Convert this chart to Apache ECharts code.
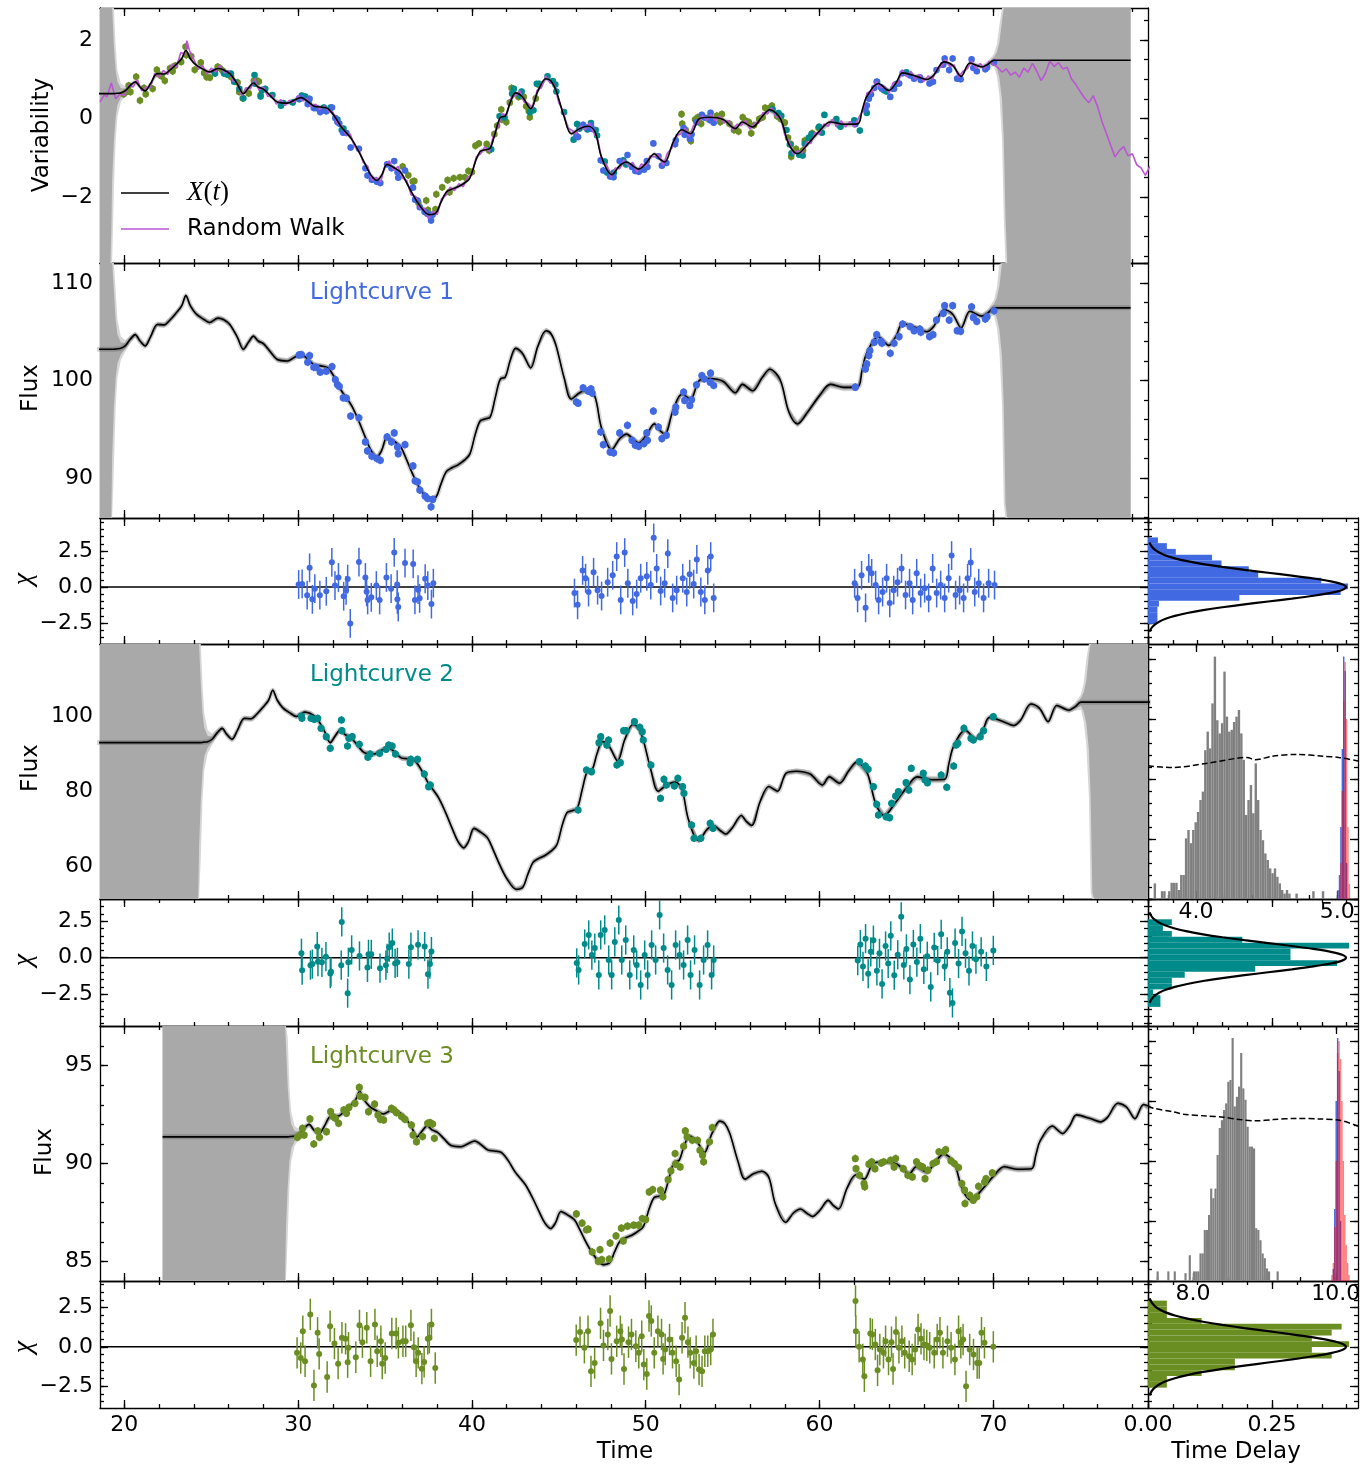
<!DOCTYPE html>
<html>
<head>
<meta charset="utf-8">
<title>Lightcurves and time delays</title>
<script src="https://cdn.jsdelivr.net/npm/echarts@6.0.0/dist/echarts.min.js"></script>
<style>
html, body { margin: 0; padding: 0; background: #fff; }
#chart { width: 1371px; height: 1466px; }
</style>
</head>
<body>
<div id="chart"></div>
<script>
const FONT = '"DejaVu Sans", "Noto Sans", sans-serif';
const SERIF = '"Liberation Serif", "DejaVu Serif", serif';
const BLUE = '#4169e1', TEAL = '#008b8b', GREEN = '#6b8e23', ORCHID = '#ba55d3';

// ---------------- data ----------------
const timeRange = [18.6, 78.9];
const timeTicks = [20, 30, 40, 50, 60, 70];

// driving signal X(t): [time, mean, sigma]
const driver = [
  [12.2,0.63,99],[19.15,0.63,99],[19.2,0.63,6],[19.25,0.63,3.5],[19.3,0.63,2.2],[19.4,0.63,1.2],
  [19.5,0.635,0.6],[19.6,0.64,0.3],[19.8,0.65,0.12],[20.05,0.70,0.06],[20.35,0.84,0.04],[20.63,0.93,0.03],
  [20.9,0.80,0.03],[21.2,0.70,0.03],[21.5,0.88,0.03],[21.9,1.14,0.03],[22.3,1.13,0.03],[22.6,1.22,0.03],
  [22.95,1.36,0.03],[23.3,1.52,0.03],[23.54,1.73,0.03],[23.8,1.52,0.03],[24.12,1.36,0.03],[24.5,1.26,0.03],
  [24.9,1.18,0.03],[25.39,1.27,0.03],[25.7,1.24,0.03],[26.07,1.14,0.03],[26.5,0.88,0.03],[26.85,0.63,0.03],
  [27.15,0.78,0.03],[27.43,0.90,0.03],[27.7,0.80,0.03],[28.02,0.74,0.03],[28.4,0.58,0.03],[28.8,0.42,0.03],
  [29.38,0.39,0.03],[29.8,0.47,0.03],[30.16,0.53,0.03],[30.5,0.45,0.03],[30.93,0.31,0.03],[31.3,0.29,0.03],
  [31.71,0.25,0.03],[32.1,0.05,0.03],[32.49,-0.22,0.03],[33.07,-0.52,0.03],[33.5,-0.85,0.03],[33.85,-1.16,0.03],
  [34.2,-1.45,0.03],[34.53,-1.58,0.03],[34.8,-1.45,0.03],[35.12,-1.17,0.03],[35.5,-1.25,0.03],[35.9,-1.37,0.03],
  [36.2,-1.60,0.03],[36.58,-1.92,0.03],[37.0,-2.22,0.03],[37.55,-2.45,0.03],[37.94,-2.40,0.03],[38.2,-2.15,0.03],
  [38.52,-1.88,0.03],[38.85,-1.80,0.03],[39.2,-1.74,0.03],[39.55,-1.65,0.03],[39.88,-1.52,0.03],[40.2,-1.10,0.03],
  [40.47,-0.84,0.03],[40.75,-0.80,0.03],[41.05,-0.76,0.03],[41.35,-0.35,0.03],[41.63,0.02,0.03],[41.92,0.06,0.03],
  [42.2,0.40,0.03],[42.51,0.65,0.03],[42.9,0.55,0.03],[43.38,0.25,0.03],[43.8,0.70,0.03],[44.26,1.01,0.03],
  [44.55,0.95,0.03],[44.84,0.71,0.03],[45.3,0.05,0.03],[45.72,-0.39,0.03],[46.2,-0.26,0.03],[46.69,-0.20,0.03],
  [47.08,-0.34,0.03],[47.46,-0.99,0.03],[48.05,-1.43,0.03],[48.51,-1.20,0.03],[48.9,-1.11,0.03],[49.3,-1.22,0.03],
  [49.6,-1.29,0.03],[50.0,-1.15,0.03],[50.5,-0.90,0.03],[50.8,-1.03,0.03],[51.09,-1.11,0.03],[51.59,-0.60,0.03],
  [52.08,-0.29,0.03],[52.58,-0.39,0.03],[53.08,-0.01,0.03],[53.67,0.03,0.03],[54.46,-0.03,0.04],[55.16,-0.26,0.04],
  [55.56,-0.09,0.04],[56.15,-0.22,0.04],[56.7,0.05,0.04],[57.14,0.22,0.04],[57.74,0.00,0.04],[58.23,-0.65,0.04],
  [58.73,-0.90,0.04],[59.33,-0.65,0.04],[60.02,-0.31,0.04],[60.62,-0.09,0.04],[61.41,-0.15,0.04],[62.2,-0.14,0.04],
  [62.45,0.20,0.03],[62.7,0.54,0.03],[63.39,0.89,0.03],[63.99,0.71,0.03],[64.4,0.90,0.03],[64.78,1.16,0.03],
  [65.58,1.07,0.03],[66.17,0.99,0.03],[66.57,1.10,0.03],[67.16,1.44,0.03],[67.66,1.35,0.03],[68.15,1.07,0.03],
  [68.65,1.41,0.03],[69.35,1.31,0.03],[69.7,1.38,0.04],[70.04,1.48,0.08],[70.2,1.48,0.2],[70.35,1.48,0.45],
  [70.5,1.48,1.0],[70.6,1.48,2.0],[70.7,1.48,4.0],[70.8,1.48,99],[77.9,1.48,99]
];

const randomWalk = [
  [18.6,0.42],[18.85,0.60],[19.0,0.55],[19.25,0.90],[19.5,0.50],[19.75,0.62],[20.0,0.58],[20.25,0.85],[20.5,0.80],
  [20.75,0.98],[21.0,0.70],[21.25,0.80],[21.5,0.78],[21.75,1.15],[22.0,1.05],[22.25,1.22],[22.5,1.12],[22.75,1.38],
  [23.0,1.30],[23.25,1.68],[23.5,1.62],[23.6,1.98],[23.75,1.72],[24.0,1.50],[24.25,1.25],[24.5,1.35],[24.75,1.12],
  [25.0,1.28],[25.25,1.18],[25.5,1.35],[25.75,1.15],[26.0,1.22],[26.25,0.95],[26.5,0.92],[26.75,0.58],[27.0,0.78],
  [27.25,0.75],[27.5,1.02],[27.75,0.72],[28.0,0.80],[28.25,0.56],[28.5,0.60],[28.75,0.36],[29.0,0.48],[29.25,0.33],
  [29.5,0.46],[29.75,0.40],[30.0,0.58],[30.25,0.44],[30.5,0.50],[30.75,0.30],[31.0,0.36],[31.25,0.22],[31.5,0.32],
  [31.75,0.18],[32.0,0.16],[32.25,-0.12],[32.5,-0.18],[32.75,-0.42],[33.0,-0.40],[33.25,-0.72],[33.5,-0.80],
  [33.75,-1.12],[34.0,-1.22],[34.25,-1.58],[34.5,-1.50],[34.75,-1.62],[35.0,-1.20],[35.25,-1.08],[35.5,-1.32],
  [35.75,-1.22],[36.0,-1.52],[36.25,-1.58],[36.5,-1.95],[36.75,-1.98],[37.0,-2.30],[37.25,-2.28],[37.5,-2.55],
  [37.75,-2.36],[38.0,-2.45],[38.25,-2.05],[38.5,-1.96],[38.75,-1.75],[39.0,-1.84],[39.25,-1.66],[39.5,-1.74],
  [39.75,-1.50],[40.0,-1.42],[40.25,-0.98],[40.5,-0.90],[40.75,-0.72],[41.0,-0.85],[41.25,-0.42],[41.5,-0.22],
  [41.75,0.12],[42.0,0.08],[42.25,0.52],[42.5,0.58],[42.75,0.70],[43.0,0.42],[43.25,0.38],[43.5,0.26],[43.75,0.72],
  [44.0,0.78],[44.25,1.08],[44.5,0.90],[44.75,0.86],[45.0,0.40],[45.25,0.18],[45.5,-0.24],[45.75,-0.30],[46.0,-0.40],
  [46.25,-0.18],[46.5,-0.30],[46.75,-0.12],[47.0,-0.36],[47.25,-0.55],[47.5,-1.10],[47.75,-1.18],[48.0,-1.50],
  [48.25,-1.26],[48.5,-1.28],[48.75,-1.05],[49.0,-1.22],[49.25,-1.12],[49.5,-1.36],[49.75,-1.16],[50.0,-1.22],
  [50.25,-0.95],[50.5,-0.98],[50.75,-0.92],[51.0,-1.20],[51.25,-0.88],[51.5,-0.76],[51.75,-0.42],[52.0,-0.40],
  [52.25,-0.25],[52.5,-0.46],[52.75,-0.18],[53.0,-0.12],[53.25,0.08],[53.5,-0.05],[53.75,0.10],[54.0,-0.06],
  [54.25,0.06],[54.5,-0.12],[54.75,-0.05],[55.0,-0.30],[55.25,-0.15],[55.5,-0.18],[55.75,-0.05],[56.0,-0.28],
  [56.25,-0.12],[56.5,-0.12],[56.75,0.15],[57.0,0.12],[57.25,0.27],[57.5,0.02],[57.75,0.06],[58.0,-0.42],
  [58.25,-0.58],[58.5,-0.92],[58.75,-0.82],[59.0,-0.88],[59.25,-0.60],[59.5,-0.64],[59.75,-0.36],[60.0,-0.40],
  [60.25,-0.14],[60.5,-0.20],[60.75,-0.02],[61.0,-0.20],[61.25,-0.06],[61.5,-0.22],[61.75,-0.08],[62.0,-0.22],
  [62.25,0.02],[62.5,0.20],[62.75,0.66],[63.0,0.65],[63.25,0.94],[63.5,0.78],[63.75,0.82],[64.0,0.64],[64.25,0.92],
  [64.5,0.88],[64.75,1.24],[65.0,1.06],[65.25,1.20],[65.5,1.00],[65.75,1.12],[66.0,0.94],[66.25,1.08],[66.5,1.00],
  [66.75,1.28],[67.0,1.30],[67.25,1.50],[67.5,1.32],[67.75,1.36],[68.0,1.05],[68.25,1.20],[68.5,1.26],[68.75,1.46],
  [69.0,1.27],[69.25,1.40],[69.5,1.26],[69.75,1.46],[70.0,1.38],[70.25,1.30],[70.5,1.18],[70.75,1.26],[71.0,1.10],
  [71.25,1.18],[71.5,1.05],[71.75,1.28],[72.0,1.18],[72.25,1.40],[72.5,1.20],[72.75,0.96],[73.0,1.15],[73.25,1.46],
  [73.5,1.32],[73.75,1.42],[74.0,1.26],[74.25,1.30],[74.5,1.00],[74.75,0.86],[75.0,0.68],[75.25,0.52],[75.5,0.40],
  [75.75,0.58],[76.0,0.30],[76.25,-0.08],[76.5,-0.38],[76.75,-0.68],[77.0,-0.98],[77.25,-0.82],[77.5,-0.72],
  [77.75,-0.95],[78.0,-0.90],[78.25,-1.18],[78.5,-1.26],[78.75,-1.45],[79.0,-1.22]
];

// each lightcurve model = mean + amplitude * X(t - delay)
const delays = [0, 5, 10];
const amplitudes = [5.0, 12.7, 2.12];
const means = [100.05, 84.9, 90.03];
const fluxErr = [0.4, 1.0, 0.2];

const lc1 = [
  [30.06,102.62],[30.19,102.66],[30.55,101.87],[30.66,102.56],[30.90,101.36],[31.03,101.36],[31.27,100.85],[31.62,100.95],
  [31.95,101.43],[32.14,100.10],[32.26,99.59],[32.37,99.39],[32.59,98.23],[32.78,98.19],[33.02,96.35],[33.50,96.18],
  [33.87,93.70],[33.99,92.78],[34.24,92.23],[34.53,91.99],[34.73,91.82],[35.12,94.21],[35.37,93.70],[35.53,94.62],
  [35.72,93.19],[35.76,92.50],[36.15,93.42],[36.61,91.24],[36.73,89.71],[36.87,89.61],[37.00,88.76],[37.31,88.14],
  [37.45,87.90],[37.65,87.05],[37.74,87.80],
  [46.01,97.79],[46.11,97.68],[46.40,99.25],[46.69,98.91],[46.85,99.15],[46.92,98.71],[47.41,94.72],[47.56,93.42],
  [47.95,92.67],[48.15,92.57],[48.50,94.62],[48.95,95.40],[49.21,93.87],[49.40,93.36],[49.60,93.25],[49.90,93.53],
  [50.06,94.62],[50.10,93.87],[50.44,96.87],[50.73,95.23],[50.93,94.04],[51.19,94.38],[51.69,96.76],[51.73,97.27],
  [52.18,98.81],[52.24,97.96],[52.54,97.44],[52.64,98.02],[52.92,99.56],[53.23,100.51],[53.37,100.17],[53.71,99.83],
  [53.73,100.75],[53.91,99.49],
  [62.06,99.32],[62.64,101.19],[62.72,101.70],[62.84,102.56],[62.90,103.07],[63.15,103.92],[63.29,104.70],[63.53,104.02],
  [63.59,103.82],[64.07,102.79],[64.29,103.82],[64.58,104.50],[64.78,105.79],[65.22,105.52],[65.44,105.11],[65.77,105.28],
  [65.83,104.94],[66.33,104.50],[66.53,104.70],[66.73,106.20],[67.12,106.88],[67.20,107.67],[67.46,106.20],[67.66,107.67],
  [67.92,105.11],[68.12,105.04],[68.75,107.56],[68.85,106.47],[69.05,106.06],[69.54,106.30],[69.64,106.54],[70.04,107.15]
];
const lc2 = [
  [30.19,100.0],[30.22,99.38],[30.74,99.38],[30.93,99.11],[31.13,99.38],[31.32,96.71],[31.62,94.49],[31.85,91.38],
  [32.49,98.93],[32.52,96.09],[32.84,92.0],[32.92,94.04],[33.11,94.49],[33.52,92.44],[34.01,88.98],[34.14,89.87],
  [34.69,90.04],[35.06,91.11],[35.21,92.27],[35.41,92.0],[35.60,89.87],[36.44,87.56],[36.48,88.44],[36.87,88.44],
  [37.26,84.53],[37.51,81.16],[37.61,81.60],
  [46.11,74.93],[46.59,85.6],[46.88,85.16],[47.31,92.89],[47.41,94.49],[47.76,92.27],[47.86,93.6],[48.34,86.93],
  [48.54,87.56],[48.73,96.09],[48.87,96.09],[49.35,98.49],[49.66,96.98],[49.80,95.82],[49.86,93.6],[50.30,86.93],
  [50.85,78.04],[51.05,83.11],[51.19,81.6],[51.65,81.33],[51.85,83.38],[52.12,81.16],[52.20,79.38],[52.64,70.93],
  [52.78,67.38],[53.17,67.38],[53.71,71.38],[53.87,70.04],
  [62.30,87.82],[62.64,86.67],[62.80,85.78],[63.10,81.16],[63.29,76.44],[63.39,73.6],[63.83,73.16],[64.03,72.89],
  [64.15,76.71],[64.38,78.67],[64.54,79.82],[64.98,82.22],[65.14,80.27],[65.28,86.04],[65.97,84.71],[66.07,82.93],
  [66.21,82.22],[67.0,84.27],[67.32,80.98],[67.72,86.67],[67.86,92.27],[67.96,92.71],[68.31,96.71],[68.71,94.04],
  [68.85,93.6],[69.25,94.49],[69.44,96.09],[70.0,99.82]
];
const lc3 = [
  [29.96,91.34],[30.12,91.46],[30.25,91.80],[30.35,91.46],[30.68,92.28],[30.90,91.00],[31.13,91.67],[31.23,91.34],
  [31.63,91.63],[31.87,92.65],[32.00,92.40],[32.14,92.31],[32.33,92.06],[32.63,92.74],[32.78,92.57],[32.92,92.87],
  [33.27,93.08],[33.52,93.89],[33.56,93.45],[33.85,93.38],[34.05,92.65],[34.40,93.04],[34.59,92.48],[34.73,92.26],
  [34.92,92.23],[35.37,92.82],[35.51,92.74],[35.66,92.60],[35.95,92.40],[36.15,92.26],[36.52,91.97],[36.61,91.46],
  [36.81,91.12],[37.16,91.38],[37.45,92.06],[37.59,92.09],[37.74,92.02],[37.84,91.29],
  [46.01,87.43],[46.34,86.96],[46.59,86.62],[46.69,86.65],[46.92,85.48],[47.27,85.00],[47.37,85.60],[47.47,85.09],
  [47.90,85.12],[47.95,85.94],[48.29,86.31],[48.60,86.70],[48.71,86.05],[48.95,86.80],[49.31,86.85],[49.60,86.85],
  [49.80,87.19],[50.00,87.14],[50.20,88.55],[50.40,88.67],[50.85,88.64],[50.99,88.30],[51.29,89.18],[51.45,89.63],
  [51.69,90.51],[51.72,89.97],[51.98,89.83],[52.18,90.88],[52.28,91.67],[52.38,91.36],[52.68,91.19],[52.98,91.19],
  [53.12,90.68],[53.27,90.43],[53.33,90.09],[53.67,91.11],[53.83,91.84],
  [62.06,90.26],[62.10,89.74],[62.30,89.40],[62.56,88.98],[62.60,88.81],[62.84,89.97],[63.00,90.09],[63.19,89.74],
  [63.55,90.03],[63.69,90.09],[64.09,90.17],[64.29,89.83],[64.38,90.26],[64.82,89.74],[65.08,89.40],[65.34,89.32],
  [65.58,90.09],[65.73,89.91],[65.93,89.83],[66.07,89.23],[66.23,89.66],[66.53,90.00],[66.73,90.09],[66.87,90.60],
  [67.16,90.60],[67.26,90.71],[67.56,90.14],[67.76,90.00],[68.00,89.80],[68.19,88.98],[68.35,88.64],[68.37,87.96],
  [68.65,88.38],[68.85,88.13],[69.05,88.30],[69.15,88.84],[69.50,89.06],[69.58,89.23],[69.94,89.52]
];

// normalised residuals [time, chi]
const chi1 = [
  [30.03,0.18],[30.23,0.22],[30.52,-0.56],[30.66,1.34],[30.82,-0.85],[30.96,-0.11],[31.25,-0.56],[31.62,-0.29],
  [31.94,1.72],[32.12,0.11],[32.32,0.67],[32.62,-0.63],[32.76,-0.22],[32.85,0.56],[33.00,-2.52],[33.50,1.74],
  [33.87,0.67],[33.94,-0.33],[34.00,-0.89],[34.21,-0.71],[34.50,0.11],[34.69,-0.89],[35.08,0.67],[35.35,-0.11],
  [35.53,2.41],[35.70,0.18],[35.71,-0.85],[35.76,-1.38],[36.15,1.67],[36.62,1.61],[36.72,-0.89],[36.90,-0.18],
  [36.99,-0.78],[37.31,0.58],[37.46,0.11],[37.67,-1.18],[37.78,0.27],
  [45.90,-0.41],[46.08,-1.23],[46.37,1.16],[46.54,0.62],[46.71,-0.34],[47.00,1.03],[47.23,-0.21],[47.46,-0.62],
  [47.81,0.34],[48.10,0.82],[48.33,2.12],[48.56,-0.89],[48.79,2.40],[48.97,0.27],[49.25,-0.96],[49.48,-0.48],
  [49.71,0.62],[50.06,0.75],[50.29,0.14],[50.46,3.42],[50.63,1.30],[50.86,-0.27],[51.09,0.27],[51.27,2.33],
  [51.55,-0.75],[51.78,-0.21],[52.13,0.62],[52.36,-0.34],[52.53,0.89],[52.76,0.21],[52.94,1.92],[53.17,-0.34],
  [53.40,-0.89],[53.57,1.16],[53.74,2.12],[53.91,-0.75],
  [62.02,0.27],[62.19,-0.75],[62.42,0.82],[62.65,-1.44],[62.83,1.30],[63.00,0.96],[63.23,0.14],[63.40,-0.89],
  [63.63,-0.34],[63.86,0.62],[64.04,-1.10],[64.27,-0.21],[64.49,0.34],[64.72,1.30],[64.95,-0.55],[65.18,0.27],
  [65.36,-0.89],[65.59,0.96],[65.82,-0.41],[66.05,-0.07],[66.28,-0.75],[66.51,1.30],[66.74,-0.41],[66.97,0.14],
  [67.20,-0.75],[67.43,0.62],[67.60,2.19],[67.83,-0.55],[68.06,-0.21],[68.29,-0.75],[68.52,0.62],[68.70,1.71],
  [68.93,-0.34],[69.16,0.27],[69.44,-0.75],[69.73,0.27],[70.07,0.14]
];
const chi2 = [
  [30.19,0.30],[30.23,-0.86],[30.71,-0.51],[30.82,-0.44],[31.10,0.76],[31.14,-0.28],[31.37,-0.32],[31.60,0.07],
  [31.85,-1.09],[31.89,-0.97],[32.48,-0.51],[32.51,2.45],[32.85,-2.43],[32.89,-0.32],[33.08,0.53],[33.53,0.12],
  [33.99,-0.67],[34.05,0.23],[34.21,0.23],[34.71,-0.72],[35.05,-0.51],[35.12,-0.05],[35.24,0.72],[35.42,1.00],
  [35.58,-0.39],[35.71,-0.32],[36.37,-0.44],[36.49,0.72],[36.90,0.88],[37.28,0.76],[37.47,-1.13],[37.58,-0.44],
  [37.67,0.42],
  [46.03,-0.36],[46.14,-0.84],[46.49,0.94],[46.72,1.56],[46.90,0.18],[47.07,0.66],[47.30,-1.18],[47.41,1.56],
  [47.64,1.90],[47.87,-0.16],[48.04,-1.18],[48.22,1.08],[48.45,2.58],[48.62,-0.16],[48.85,1.21],[49.08,-1.18],
  [49.31,0.53],[49.48,-0.50],[49.71,-1.87],[49.94,0.18],[50.11,-1.18],[50.34,0.87],[50.57,-0.16],[50.80,2.93],
  [51.03,0.66],[51.26,-0.84],[51.49,-1.87],[51.72,0.87],[51.95,0.18],[52.18,-0.50],[52.41,1.21],[52.58,-1.18],
  [52.81,0.53],[53.10,-1.87],[53.33,-0.16],[53.56,0.87],[53.79,-1.18],[53.91,-0.16],
  [62.20,-0.20],[62.35,0.90],[62.50,-0.60],[62.65,1.30],[62.80,-1.10],[62.95,0.40],[63.10,1.20],[63.30,-0.90],
  [63.45,0.30],[63.60,-1.80],[63.80,0.80],[63.95,-0.40],[64.10,1.50],[64.30,-1.20],[64.50,0.20],[64.70,2.80],
  [64.85,-0.50],[65.00,0.60],[65.20,-1.50],[65.40,0.90],[65.60,-0.30],[65.80,1.30],[66.00,-0.80],[66.20,0.10],
  [66.40,-2.00],[66.60,0.70],[66.80,-0.20],[67.00,1.60],[67.20,-0.60],[67.35,0.40],[67.50,-2.40],[67.65,-3.10],
  [67.80,1.00],[68.00,-0.40],[68.20,1.80],[68.40,0.30],[68.60,-0.90],[68.80,0.80],[69.00,-0.10],[69.30,0.40],
  [69.60,-0.60],[70.00,0.50]
];
const chi3 = [
  [29.94,-0.38],[30.15,-0.71],[30.27,1.00],[30.40,-0.92],[30.70,2.07],[30.91,-2.46],[31.12,0.90],[31.21,-0.45],
  [31.67,-1.92],[31.84,1.32],[32.09,0.21],[32.30,-1.07],[32.52,0.58],[32.73,0.51],[32.85,-0.98],[32.90,-0.06],
  [33.32,-0.66],[33.53,1.37],[33.70,0.30],[33.95,1.22],[34.17,-0.92],[34.42,1.43],[34.55,-0.28],[34.76,0.36],
  [34.84,-1.07],[35.01,-0.71],[35.39,0.85],[35.64,0.85],[35.77,0.26],[36.03,0.36],[36.19,0.36],[36.49,1.37],
  [36.66,-0.02],[36.79,-0.92],[36.91,-0.38],[37.12,-1.39],[37.25,-0.96],[37.46,0.51],[37.55,0.58],[37.67,1.43],
  [37.89,-1.35],
  [46.00,0.43],[46.22,0.94],[46.47,-0.06],[46.68,1.00],[46.85,-1.56],[47.06,-1.03],[47.40,1.50],[47.57,0.09],
  [47.82,0.79],[47.95,2.29],[48.03,-0.77],[48.33,0.36],[48.54,1.00],[48.63,0.47],[48.75,-1.41],[49.01,0.30],
  [49.18,0.79],[49.43,0.04],[49.60,-0.38],[49.77,0.68],[49.89,-1.13],[50.06,-1.73],[50.19,1.97],[50.32,1.65],
  [50.49,-0.38],[50.70,1.00],[50.91,0.79],[51.00,-0.77],[51.12,-0.17],[51.37,0.47],[51.54,-0.38],[51.75,-0.92],
  [51.92,-2.09],[52.09,0.58],[52.26,1.86],[52.43,0.30],[52.56,-0.38],[52.77,-1.03],[52.90,-0.28],[53.07,-1.45],
  [53.24,-1.56],[53.40,-0.28],[53.57,-0.28],[53.74,-0.17],[53.87,0.79],
  [62.07,2.93],[62.09,1.00],[62.28,0.00],[62.49,-0.81],[62.58,-1.88],[62.92,0.85],[63.04,0.79],[63.21,0.15],
  [63.34,-1.50],[63.47,-0.17],[63.68,-0.38],[63.80,0.36],[63.97,-0.81],[64.14,0.30],[64.23,-1.41],[64.40,0.94],
  [64.57,-0.06],[64.74,0.36],[64.90,-0.38],[65.16,-0.60],[65.33,-0.81],[65.50,-0.17],[65.67,1.11],[65.84,0.51],
  [66.01,0.15],[66.17,0.09],[66.34,-0.06],[66.60,-0.38],[66.77,0.47],[66.93,0.90],[67.10,-0.38],[67.36,0.36],
  [67.57,-0.06],[67.79,-0.81],[68.00,1.00],[68.13,0.26],[68.26,0.47],[68.43,-2.52],[68.64,-0.17],[68.86,-0.49],
  [69.07,-1.03],[69.19,-1.03],[69.32,0.90],[69.49,0.26],[70.00,0.00]
];

// residual histograms: [bin centre chi, density]; each histogram has its own bin width
const chiBinWidths = [0.406, 0.4, 0.37];
const chiHist1 = [[3.25,0.020],[2.85,0.038],[2.45,0.056],[2.05,0.129],[1.65,0.148],[1.25,0.203],[0.85,0.222],
  [0.45,0.349],[0.05,0.403],[-0.35,0.388],[-0.75,0.184],[-1.15,0.022],[-1.55,0.019],[-1.95,0.019],[-2.35,0.019]];
const chiHist2 = [[2.43,0.048],[2.03,0.030],[1.63,0.048],[1.23,0.19],[0.83,0.405],[0.43,0.287],[0.03,0.287],
  [-0.37,0.381],[-0.77,0.216],[-1.17,0.074],[-1.57,0.048],[-1.97,0.048],[-2.37,0.010],[-2.77,0.025],[-3.17,0.025]];
const chiHist3 = [[2.765,0.038],[2.395,0.038],[2.025,0.038],[1.655,0.108],[1.285,0.39],[0.915,0.37],[0.545,0.33],
  [0.175,0.405],[-0.195,0.33],[-0.565,0.37],[-0.935,0.175],[-1.305,0.175],[-1.675,0.108],[-2.045,0.038],[-2.415,0.038]];

// standard normal density for reference
const normalChi = [-3.1,-3.0,-2.8,-2.6,-2.4,-2.2,-2.0,-1.8,-1.6,-1.4,-1.2,-1.0,-0.8,-0.6,-0.4,-0.2,0,
  0.2,0.4,0.6,0.8,1.0,1.2,1.4,1.6,1.8,2.0,2.2,2.4,2.6,2.8,3.0,3.1];
const normalPdf = [0.0033,0.0044,0.0079,0.0136,0.0224,0.0355,0.0540,0.0790,0.1109,0.1497,0.1942,0.2420,0.2897,
  0.3332,0.3683,0.3910,0.3989,0.3910,0.3683,0.3332,0.2897,0.2420,0.1942,0.1497,0.1109,0.0790,0.0540,0.0355,
  0.0224,0.0136,0.0079,0.0044,0.0033];

// time-delay posteriors, lightcurve 2
const delay2Start = 3.70, delay2Width = 0.017;
const delay2Counts = [26,0,0,13,13,0,13,27,27,27,15,40,40,101,115,93,115,128,145,165,179,248,279,251,326,404,298,276,
  293,379,304,279,282,295,304,315,276,232,140,165,190,143,226,165,115,98,76,65,51,43,51,37,26,15,9,15,9,0,0,9,0,0,0,
  0,0,0,13,0,0,0,13];
const spikeWidth = 0.01;
const delay2Blue = [[5.005,15],[5.015,40],[5.025,120],[5.035,250],[5.045,404],[5.055,380],[5.065,60]];
const delay2Red = [[5.015,15],[5.025,60],[5.035,180],[5.045,330],[5.055,395],[5.065,300],[5.075,120],[5.085,25]];
const delay2Curve = [[3.66,222],[3.83,219],[4.07,226],[4.30,235],[4.36,236],[4.42,232],[4.54,238],[4.71,241],
  [4.90,238],[5.01,236],[5.146,230]];

// time-delay posteriors, lightcurve 3
const delay3Start = 7.49, delay3Width = 0.03;
const delay3Counts = [16,0,0,0,0,16,0,0,16,0,0,0,0,13,0,43,0,16,16,16,46,46,85,85,110,154,138,154,210,255,268,285,
  296,332,335,405,291,307,324,380,321,302,257,224,224,221,88,85,68,46,38,21,16,0,0,0,16];
const delay3Blue = [[9.965,20],[9.985,120],[10.005,300],[10.025,405],[10.045,350],[10.065,100]];
const delay3Red = [[9.945,10],[9.965,30],[9.985,90],[10.005,200],[10.025,380],[10.045,400],[10.065,370],
  [10.085,300],[10.105,200],[10.125,110],[10.145,60],[10.165,30],[10.185,10]];
const delay3Curve = [[7.37,292],[7.444,288],[7.724,282],[7.864,278],[8.19,275],[8.424,273],[8.657,269],[8.89,267],
  [9.124,269],[9.45,271],[9.776,270],[10.056,268],[10.31,258]];

// ---------------- chart assembly ----------------
const grids = [], xAxis = [], yAxis = [], series = [];
const AX = { color: '#000', width: 1.3 };

function steps(a, b, s) {
  const out = [], n = Math.round((b - a) / s);
  for (let i = 0; i <= n; i++) out.push(+(a + i * s).toFixed(6));
  return out;
}
const minus = s => String(s).replace('-', '\u2212');

function axisPair(arr, gi, pos, spec, labels) {
  const first = arr.length;
  arr.push({
    type: 'value', gridIndex: gi, position: pos, min: spec.range[0], max: spec.range[1],
    axisLine: { show: true, onZero: false, lineStyle: AX },
    splitLine: { show: false },
    axisTick: { show: true, inside: true, length: 8, lineStyle: AX, customValues: spec.major },
    axisLabel: labels ? {
      show: true, customValues: spec.major, formatter: spec.fmt, color: '#000',
      fontSize: 22, fontFamily: FONT, margin: spec.margin
    } : { show: false }
  });
  arr.push({
    type: 'value', gridIndex: gi, position: pos, min: spec.range[0], max: spec.range[1],
    axisLine: { show: false, onZero: false }, splitLine: { show: false },
    axisTick: { show: true, inside: true, length: 4, lineStyle: AX, customValues: spec.minor },
    axisLabel: { show: false }
  });
  return first;
}

function panel(box, xs, ys) {
  const gi = grids.length;
  grids.push({ left: box[0], top: box[1], width: box[2], height: box[3] });
  const xi = axisPair(xAxis, gi, 'bottom', xs, !!xs.labels);
  axisPair(xAxis, gi, 'top', xs, false);
  const yi = axisPair(yAxis, gi, 'left', ys, !!ys.labels);
  axisPair(yAxis, gi, 'right', ys, false);
  return { xi, yi, x: xs.range, y: ys.range };
}

const LEFT = 100, WIDTH = 1048, RLEFT = 1148, RWIDTH = 210;
const timeAxis = labels => ({ range: timeRange, major: timeTicks, minor: steps(20, 78, 2), labels, fmt: v => String(v), margin: 6 });
const chiAxis = range => ({ range, major: [-2.5, 0, 2.5], minor: steps(-4.5, 4.5, 0.5), labels: true, fmt: v => minus(v.toFixed(1)), margin: 7 });
const chiAxisR = range => ({ range, major: [-2.5, 0, 2.5], minor: steps(-4.5, 4.5, 0.5) });
const densAxis = labels => ({ range: [0, 0.423], major: [0, 0.25], minor: steps(0, 0.4, 0.05), labels, fmt: v => v.toFixed(2), margin: 6 });
const countAxis = { range: [0, 425], major: steps(0, 400, 100), minor: steps(0, 420, 20) };

const P1 = panel([LEFT, 8, WIDTH, 255], timeAxis(false),
  { range: [-3.68, 2.81], major: [-2, 0, 2], minor: steps(-3.5, 2.5, 0.5), labels: true, fmt: v => minus(v), margin: 7 });
const P2 = panel([LEFT, 263, WIDTH, 255], timeAxis(false),
  { range: [85.9, 112.05], major: [90, 100, 110], minor: steps(86, 112, 2), labels: true, fmt: v => String(v), margin: 7 });
const P3 = panel([LEFT, 518, WIDTH, 126], timeAxis(false), chiAxis([-3.95, 4.8]));
const P4 = panel([LEFT, 644, WIDTH, 255], timeAxis(false),
  { range: [51.2, 119.2], major: [60, 80, 100], minor: steps(55, 115, 5), labels: true, fmt: v => String(v), margin: 7 });
const P5 = panel([LEFT, 899, WIDTH, 127], timeAxis(false), chiAxis([-4.68, 4.02]));
const P6 = panel([LEFT, 1026, WIDTH, 255], timeAxis(false),
  { range: [84.0, 97.03], major: [85, 90, 95], minor: steps(85, 97, 1), labels: true, fmt: v => String(v), margin: 7 });
const P7 = panel([LEFT, 1281, WIDTH, 127], timeAxis(true), chiAxis([-3.9, 4.2]));

const R3 = panel([RLEFT, 518, RWIDTH, 126], densAxis(false), chiAxisR([-3.95, 4.8]));
const R4 = panel([RLEFT, 644, RWIDTH, 255],
  { range: [3.66, 5.146], major: [4, 5], minor: steps(3.8, 5.0, 0.2), labels: true, fmt: v => v.toFixed(1), margin: 2 }, countAxis);
const R5 = panel([RLEFT, 899, RWIDTH, 127], densAxis(false), chiAxisR([-4.68, 4.02]));
const R6 = panel([RLEFT, 1026, RWIDTH, 255],
  { range: [7.37, 10.31], major: [8, 10], minor: steps(7.5, 10, 0.5), labels: true, fmt: v => v.toFixed(1), margin: 2 }, countAxis);
const R7 = panel([RLEFT, 1281, RWIDTH, 127], densAxis(true), chiAxisR([-3.9, 4.2]));

const clampTo = (v, r) => Math.min(Math.max(v, r[0]), r[1]);

// GP uncertainty band around the model (k sigma)
function band(p, delay, amp, mean, k, color, z) {
  return {
    type: 'custom', xAxisIndex: p.xi, yAxisIndex: p.yi, clip: true, silent: true, z,
    encode: { x: 0, y: 1 }, data: [[p.x[0], p.y[0]]],
    renderItem(params, api) {
      const up = [], lo = [];
      driver.forEach(([t, m, s]) => {
        const T = clampTo(t + delay, p.x);
        up.push(api.coord([T, clampTo(mean + amp * (m + k * s), p.y)]));
        lo.push(api.coord([T, clampTo(mean + amp * (m - k * s), p.y)]));
      });
      return { type: 'polygon', shape: { points: up.concat(lo.reverse()) }, style: { fill: color } };
    }
  };
}

function line(p, data, color, width, z, opts) {
  return Object.assign({
    type: 'line', xAxisIndex: p.xi, yAxisIndex: p.yi, data, symbol: 'none', showSymbol: false,
    lineStyle: { color, width }, z, silent: true, clip: true, smooth: false
  }, opts || {});
}

function points(p, data, color, r, z) {
  return {
    type: 'custom', xAxisIndex: p.xi, yAxisIndex: p.yi, clip: true, silent: true, z,
    dimensions: ['t', 'v', 'e'], encode: { x: 0, y: 1 }, data,
    renderItem(params, api) {
      const t = api.value(0), v = api.value(1), e = api.value(2);
      const c = api.coord([t, v]), a = api.coord([t, v - e]), b = api.coord([t, v + e]);
      return {
        type: 'group', children: [
          { type: 'line', shape: { x1: c[0], y1: a[1], x2: c[0], y2: b[1] }, style: { stroke: color, lineWidth: 1.5 } },
          { type: 'circle', shape: { cx: c[0], cy: c[1], r }, style: { fill: color } }
        ]
      };
    }
  };
}

function vbars(p, data, color, z) {
  return {
    type: 'custom', xAxisIndex: p.xi, yAxisIndex: p.yi, clip: true, silent: true, z,
    encode: { x: [0, 1], y: 2 }, data,
    renderItem(params, api) {
      const a = api.coord([api.value(0), 0]), b = api.coord([api.value(1), api.value(2)]);
      return { type: 'rect', shape: { x: a[0], y: b[1], width: b[0] - a[0], height: a[1] - b[1] }, style: { fill: color } };
    }
  };
}

function hbars(p, data, color, z) {
  return {
    type: 'custom', xAxisIndex: p.xi, yAxisIndex: p.yi, clip: true, silent: true, z,
    encode: { x: 2, y: [0, 1] }, data,
    renderItem(params, api) {
      const a = api.coord([0, api.value(0)]), b = api.coord([api.value(2), api.value(1)]);
      return { type: 'rect', shape: { x: a[0], y: b[1], width: b[0] - a[0], height: a[1] - b[1] }, style: { fill: color } };
    }
  };
}

const modelCurve = i => driver.map(([t, m]) => [t + delays[i], means[i] + amplitudes[i] * m]);
const fluxPoints = (lc, i) => lc.map(([t, f]) => [t, f, fluxErr[i]]);
const driverPoints = (lc, i) => lc.map(([t, f]) => [t - delays[i], (f - means[i]) / amplitudes[i], fluxErr[i] / amplitudes[i]]);
const chiPoints = c => c.map(([t, v]) => [t, v, 1]);

// top panel: driving signal and random walk
series.push(band(P1, 0, 1, 0, 2, '#d6d6d6', 1));
series.push(band(P1, 0, 1, 0, 1, '#a9a9a9', 2));
series.push(points(P1, driverPoints(lc3, 2), GREEN, 3.3, 4));
series.push(points(P1, driverPoints(lc2, 1), TEAL, 3.3, 4));
series.push(points(P1, driverPoints(lc1, 0), BLUE, 3.3, 4));
series.push(line(P1, randomWalk, ORCHID, 1.6, 5));
series.push(line(P1, driver.map(([t, m]) => [t, m]), '#000', 1.6, 6, { smooth: 0.35 }));

// lightcurve panels
const lcPanels = [P2, P4, P6], chiPanels = [P3, P5, P7], histPanels = [R3, R5, R7];
const lcs = [lc1, lc2, lc3], chis = [chi1, chi2, chi3], chiHists = [chiHist1, chiHist2, chiHist3];
const colors = [BLUE, TEAL, GREEN];
for (let i = 0; i < 3; i++) {
  const P = lcPanels[i];
  series.push(band(P, delays[i], amplitudes[i], means[i], 2, '#d6d6d6', 1));
  series.push(band(P, delays[i], amplitudes[i], means[i], 1, '#a9a9a9', 2));
  series.push(line(P, modelCurve(i), 'rgba(0,0,0,0.16)', 5, 3, { smooth: 0.35 }));
  series.push(line(P, modelCurve(i), '#000', 1.6, 4, { smooth: 0.35 }));
  series.push(points(P, fluxPoints(lcs[i], i), colors[i], 3.6, 5));

  const C = chiPanels[i];
  series.push(line(C, [[timeRange[0], 0], [timeRange[1], 0]], '#000', 1.5, 3));
  series.push(points(C, chiPoints(chis[i]), colors[i], 3, 4));

  const H = histPanels[i], w = chiBinWidths[i];
  series.push(hbars(H, chiHists[i].map(([c, d]) => [c - w / 2, c + w / 2, d]), colors[i], 2));
  series.push(line(H, normalChi.map((c, j) => [normalPdf[j], c]), '#000', 2.2, 3, { smooth: 0.3 }));
}

// time-delay posteriors
function grayBars(start, width, counts) {
  const out = [];
  counts.forEach((c, j) => { if (c > 0) out.push([start + j * width, start + (j + 1) * width, c]); });
  return out;
}
const spikes = (arr, w) => arr.map(([c, n]) => [c - w / 2, c + w / 2, n]);
series.push(vbars(R4, grayBars(delay2Start, delay2Width, delay2Counts), '#808080', 2));
series.push(vbars(R4, spikes(delay2Blue, spikeWidth), BLUE, 3));
series.push(vbars(R4, spikes(delay2Red, spikeWidth), 'rgba(255,0,0,0.5)', 4));
series.push(line(R4, delay2Curve, '#000', 1.5, 5, { lineStyle: { color: '#000', width: 1.5, type: [6, 3] }, smooth: 0.3 }));
series.push(vbars(R6, grayBars(delay3Start, delay3Width, delay3Counts), '#808080', 2));
series.push(vbars(R6, spikes(delay3Blue, 0.02), BLUE, 3));
series.push(vbars(R6, spikes(delay3Red, 0.02), 'rgba(255,0,0,0.5)', 4));
series.push(line(R6, delay3Curve, '#000', 1.5, 5, { lineStyle: { color: '#000', width: 1.5, type: [6, 3] }, smooth: 0.3 }));

// ---------------- labels ----------------
function txt(x, y, text, opts) {
  return Object.assign({
    type: 'text', x, y, silent: true, z: 50,
    style: Object.assign({ text, fill: '#000', fontSize: 23, fontFamily: FONT, align: 'center', verticalAlign: 'middle',
      textAlign: 'center', textVerticalAlign: 'middle' }, (opts && opts.style) || {})
  }, opts && opts.rotation !== undefined ? { rotation: opts.rotation } : {});
}
const ROT = Math.PI / 2;
const chiStyle = { fontFamily: SERIF, fontStyle: 'italic', fontSize: 28 };
const graphic = [
  { type: 'line', silent: true, z: 50, shape: { x1: 121, y1: 193, x2: 169, y2: 193 }, style: { stroke: '#000', lineWidth: 1.6 } },
  { type: 'line', silent: true, z: 50, shape: { x1: 121, y1: 229, x2: 169, y2: 229 }, style: { stroke: ORCHID, lineWidth: 1.6 } },
  {
    type: 'text', x: 187, y: 193, silent: true, z: 50,
    style: {
      text: '{i|X}{n|(}{i|t}{n|)}', align: 'left', verticalAlign: 'middle', textAlign: 'left', textVerticalAlign: 'middle',
      rich: {
        i: { fontFamily: SERIF, fontStyle: 'italic', fontSize: 27, fill: '#000' },
        n: { fontFamily: SERIF, fontSize: 27, fill: '#000' }
      }
    }
  },
  txt(187, 229, 'Random Walk', { style: { align: 'left', textAlign: 'left' } }),
  txt(310, 293, 'Lightcurve 1', { style: { fill: BLUE, align: 'left', textAlign: 'left' } }),
  txt(310, 675, 'Lightcurve 2', { style: { fill: TEAL, align: 'left', textAlign: 'left' } }),
  txt(310, 1057, 'Lightcurve 3', { style: { fill: GREEN, align: 'left', textAlign: 'left' } }),
  txt(42, 135, 'Variability', { rotation: ROT }),
  txt(31, 388, 'Flux', { rotation: ROT }),
  txt(24, 579, '\u03c7', { rotation: ROT, style: chiStyle }),
  txt(31, 768, 'Flux', { rotation: ROT }),
  txt(24, 960, '\u03c7', { rotation: ROT, style: chiStyle }),
  txt(45, 1152, 'Flux', { rotation: ROT }),
  txt(24, 1347, '\u03c7', { rotation: ROT, style: chiStyle }),
  txt(625, 1452, 'Time'),
  txt(1236, 1452, 'Time Delay')
];

const chart = echarts.init(document.getElementById('chart'), null, { renderer: 'canvas' });
chart.setOption({
  animation: false,
  backgroundColor: '#fff',
  textStyle: { fontFamily: FONT },
  grid: grids,
  xAxis,
  yAxis,
  series,
  graphic
});
</script>
</body>
</html>
